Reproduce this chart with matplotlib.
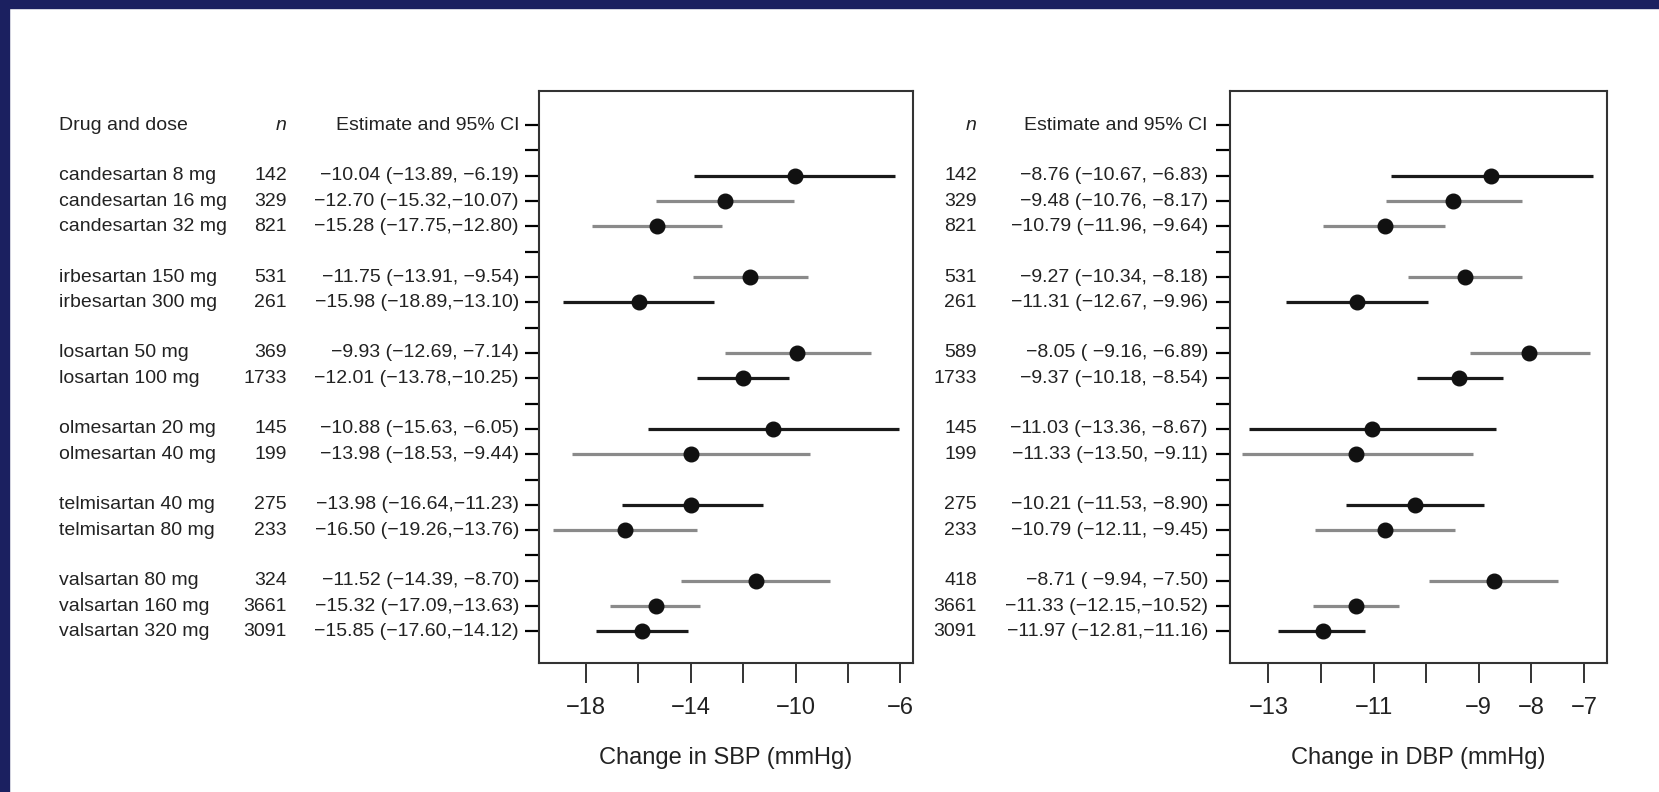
import numpy as np
import matplotlib
matplotlib.use('Agg')
import matplotlib.pyplot as plt
import matplotlib.transforms as mtrans
from matplotlib import font_manager
from matplotlib.patches import Rectangle

# data
drugs = ['candesartan 8 mg', 'candesartan 16 mg', 'candesartan 32 mg',
         'irbesartan 150 mg', 'irbesartan 300 mg',
         'losartan 50 mg', 'losartan 100 mg',
         'olmesartan 20 mg', 'olmesartan 40 mg',
         'telmisartan 40 mg', 'telmisartan 80 mg',
         'valsartan 80 mg', 'valsartan 160 mg', 'valsartan 320 mg']
groups = [3, 2, 2, 2, 2, 3]

sbp_n = [142, 329, 821, 531, 261, 369, 1733, 145, 199, 275, 233, 324, 3661, 3091]
sbp_est = [-10.04, -12.70, -15.28, -11.75, -15.98, -9.93, -12.01, -10.88, -13.98, -13.98, -16.50, -11.52, -15.32, -15.85]
sbp_lo = [-13.89, -15.32, -17.75, -13.91, -18.89, -12.69, -13.78, -15.63, -18.53, -16.64, -19.26, -14.39, -17.09, -17.60]
sbp_hi = [-6.19, -10.07, -12.80, -9.54, -13.10, -7.14, -10.25, -6.05, -9.44, -11.23, -13.76, -8.70, -13.63, -14.12]

dbp_n = [142, 329, 821, 531, 261, 589, 1733, 145, 199, 275, 233, 418, 3661, 3091]
dbp_est = [-8.76, -9.48, -10.79, -9.27, -11.31, -8.05, -9.37, -11.03, -11.33, -10.21, -10.79, -8.71, -11.33, -11.97]
dbp_lo = [-10.67, -10.76, -11.96, -10.34, -12.67, -9.16, -10.18, -13.36, -13.50, -11.53, -12.11, -9.94, -12.15, -12.81]
dbp_hi = [-6.83, -8.17, -9.64, -8.18, -9.96, -6.89, -8.54, -8.67, -9.11, -8.90, -9.45, -7.50, -10.52, -11.16]

# k = black, g = grey (line + tick colour per row)
line_col = ['k', 'g', 'g', 'g', 'k', 'g', 'k', 'k', 'g', 'k', 'g', 'g', 'g', 'k']
sep_col = ['g', 'k', 'g', 'g', 'g', 'k']

sbp_ticks = [-18, -16, -14, -12, -10, -8, -6]
sbp_labels = ['\u221218', '', '\u221214', '', '\u221210', '', '\u22126']
dbp_ticks = [-13, -12, -11, -10, -9, -8, -7]
dbp_labels = ['\u221213', '', '\u221211', '', '\u22129', '\u22128', '\u22127']

COL = {'k': '#1a1a1a', 'g': '#8a8a8a'}
TXT = '#222222'

names = {f.name for f in font_manager.fontManager.ttflist}
if 'Liberation Sans Narrow' in names:
    fam, rs, ls = 'Liberation Sans Narrow', 16.5, 20.5
else:
    fam, rs, ls = 'Liberation Sans', 14, 17
plt.rcParams['font.family'] = [fam, 'DejaVu Sans']

# row layout: 0 header, then a blank separator before each group
rows = []
sep_rows = []
y = 1
for g in groups:
    sep_rows.append(y)
    y += 1
    for j in range(g):
        rows.append(y)
        y += 1
last = y - 1

def fmt(v):
    return v.replace('-', '\u2212')

def ci_str(e, lo, hi):
    return fmt('{:.2f} ({:>6.2f},{:>6.2f})'.format(e, lo, hi))

W, H = 1659, 792
fig = plt.figure(figsize=(W / 100, H / 100), dpi=100)
fig.patch.set_facecolor('white')
fig.patches.append(Rectangle((0, 0), 9 / W, 1, transform=fig.transFigure,
                             color='#1b2060', zorder=0))
fig.patches.append(Rectangle((0, 1 - 8 / H), 1, 8 / H, transform=fig.transFigure,
                             color='#1b2060', zorder=0))

def rect(l, r, t, b):
    return [l / W, 1 - b / H, (r - l) / W, (b - t) / H]

ax1 = fig.add_axes(rect(539, 913, 91, 663))
ax2 = fig.add_axes(rect(1230, 1607, 91, 663))

panels = [
    (ax1, sbp_n, sbp_est, sbp_lo, sbp_hi, (-19.79, -5.52), sbp_ticks, sbp_labels,
     'Change in SBP (mmHg)', 59, 287, 519),
    (ax2, dbp_n, dbp_est, dbp_lo, dbp_hi, (-13.73, -6.56), dbp_ticks, dbp_labels,
     'Change in DBP (mmHg)', None, 977, 1208),
]

for ax, n, est, lo, hi, xl, xt, xtl, xlab, x_drug, x_n, x_ci in panels:
    for i in range(len(drugs)):
        ax.plot([lo[i], hi[i]], [rows[i], rows[i]], color=COL[line_col[i]], lw=2.3,
                solid_capstyle='butt', zorder=2)
        ax.plot(est[i], rows[i], 'o', color='#111111', ms=10.5, zorder=3)
    ax.set_xlim(*xl)
    ax.set_ylim(last + 1.25, -1.35)
    ax.set_xticks(xt)
    ax.set_xticklabels(xtl, fontsize=ls, color=TXT)
    ax.set_xlabel(xlab, fontsize=ls, color=TXT, labelpad=20)
    ax.tick_params(axis='x', length=14.5, width=1.4, pad=10, color='#333333')

    ytk = [0] + sep_rows + rows
    ycol = ['k'] + sep_col + line_col
    ax.set_yticks(ytk)
    ax.set_yticklabels([''] * len(ytk))
    ax.tick_params(axis='y', length=10, width=1.6)
    for tk, c in zip(ax.yaxis.get_major_ticks(), ycol):
        tk.tick1line.set_color(COL[c])
    for sp in ax.spines.values():
        sp.set_color('#333333')
        sp.set_linewidth(1.5)

    tr = mtrans.blended_transform_factory(fig.transFigure, ax.transData)
    if x_drug is not None:
        ax.text(x_drug / W, 0, 'Drug and dose', transform=tr, ha='left', va='center',
                fontsize=rs, color=TXT, clip_on=False)
    ax.text(x_n / W, 0, 'n', transform=tr, ha='right', va='center', style='italic',
            fontsize=rs, color=TXT, clip_on=False)
    ax.text(x_ci / W, 0, 'Estimate and 95% CI', transform=tr, ha='right', va='center',
            fontsize=rs, color=TXT, clip_on=False)
    for i in range(len(drugs)):
        if x_drug is not None:
            ax.text(x_drug / W, rows[i], drugs[i], transform=tr, ha='left', va='center',
                    fontsize=rs, color=TXT, clip_on=False)
        ax.text(x_n / W, rows[i], str(n[i]), transform=tr, ha='right', va='center',
                fontsize=rs, color=TXT, clip_on=False)
        ax.text(x_ci / W, rows[i], ci_str(est[i], lo[i], hi[i]), transform=tr,
                ha='right', va='center', fontsize=rs, color=TXT, clip_on=False)

fig.savefig('out.png', dpi=100)
